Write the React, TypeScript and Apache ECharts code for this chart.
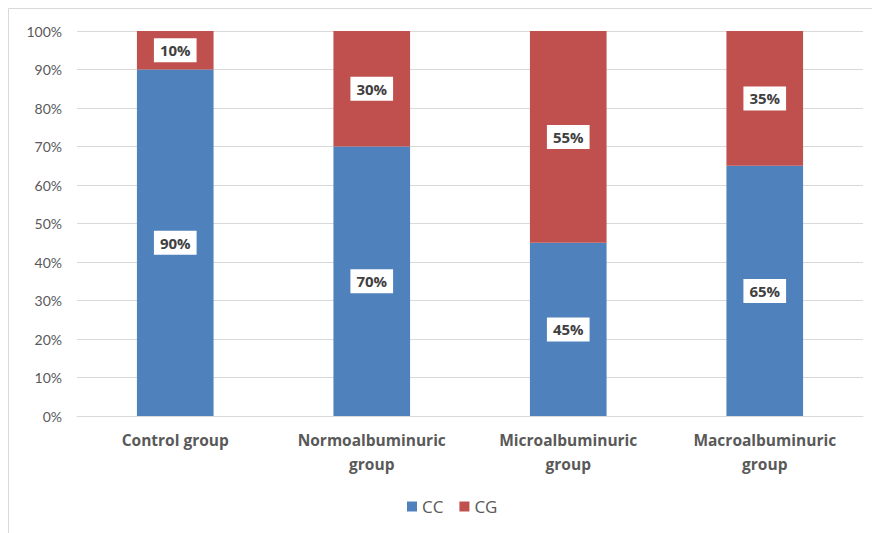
import React, { useEffect, useRef } from "react";
import * as echarts from "echarts";

const categories = [
  "Control group",
  "Normoalbuminuric\ngroup",
  "Microalbuminuric\ngroup",
  "Macroalbuminuric\ngroup",
];
const ccValues = [90, 70, 45, 65];
const cgValues = [10, 30, 55, 35];

const FONT = "Lato, 'Open Sans', sans-serif";
const BOLD_FONT = "'Open Sans', Lato, sans-serif";

export default function App() {
  const ref = useRef<HTMLDivElement>(null);

  useEffect(() => {
    if (!ref.current) return;
    const chart = echarts.init(ref.current, undefined, { renderer: "svg" });

    const dataLabel = {
      show: true,
      position: "inside",
      formatter: (p: any) => `${p.value}%`,
      fontFamily: BOLD_FONT,
      fontWeight: "bold",
      fontSize: 15,
      color: "#404040",
      backgroundColor: "#ffffff",
      padding: [5, 6, 4, 6],
    };

    chart.setOption({
      animation: false,
      backgroundColor: "#ffffff",
      grid: { left: 77, right: 9, top: 31, bottom: 117 },
      xAxis: {
        type: "category",
        data: categories,
        axisLine: { lineStyle: { color: "#d9d9d9", width: 1 } },
        axisTick: { show: false },
        axisLabel: {
          fontFamily: BOLD_FONT,
          fontWeight: "bold",
          fontSize: 15.5,
          color: "#595959",
          lineHeight: 24,
          margin: 12,
        },
      },
      yAxis: {
        type: "value",
        min: 0,
        max: 100,
        interval: 10,
        axisLine: { show: false },
        axisTick: { show: false },
        axisLabel: {
          formatter: "{value}%",
          fontFamily: FONT,
          fontSize: 14,
          color: "#595959",
          margin: 15,
        },
        splitLine: { lineStyle: { color: "#d9d9d9", width: 1 } },
      },
      legend: {
        bottom: 13,
        left: 402,
        itemWidth: 10,
        itemHeight: 10,
        itemGap: 16,
        icon: "rect",
        textStyle: { fontFamily: BOLD_FONT, fontSize: 17, color: "#595959" },
        data: ["CC", "CG"],
      },
      series: [
        {
          name: "CC",
          type: "bar",
          stack: "total",
          barWidth: "39%",
          data: ccValues,
          itemStyle: { color: "#4F81BD" },
          label: dataLabel,
        },
        {
          name: "CG",
          type: "bar",
          stack: "total",
          barWidth: "39%",
          data: cgValues,
          itemStyle: { color: "#C0504D" },
          label: dataLabel,
        },
      ],
      graphic: [
        {
          type: "rect",
          shape: { x: 8.5, y: 8.5, width: 900, height: 600 },
          style: { fill: "none", stroke: "#d9d9d9", lineWidth: 1 },
          silent: true,
          z: -1,
        },
      ],
    });

    return () => chart.dispose();
  }, []);

  return (
    <div
      ref={ref}
      style={{ position: "absolute", left: 0, top: 0, width: 872, height: 533 }}
    />
  );
}
